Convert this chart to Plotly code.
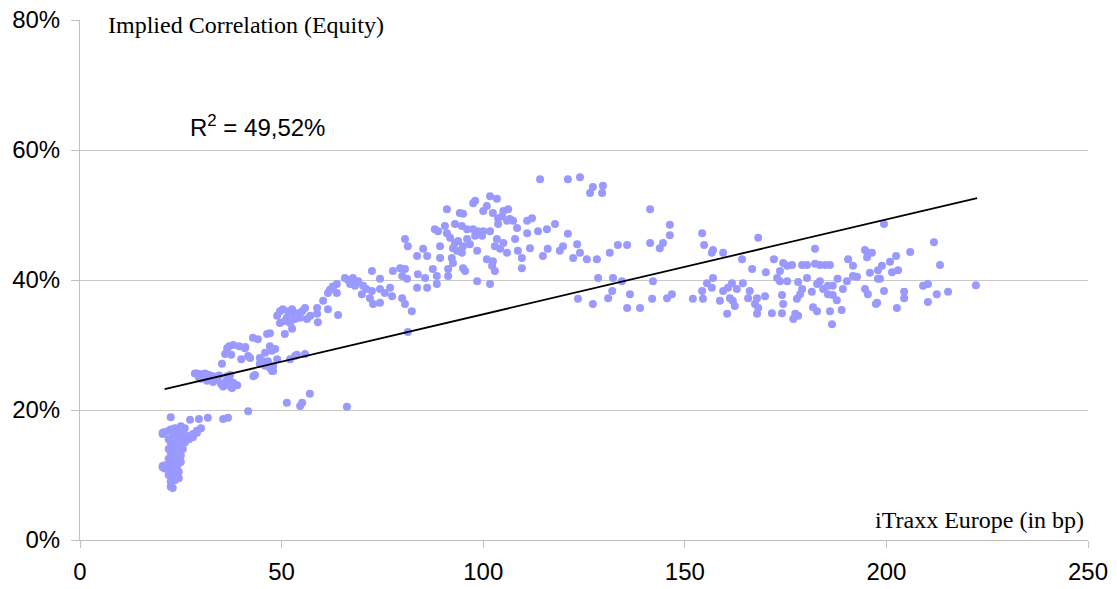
import plotly.graph_objects as go

# iTraxx Europe (bp) vs implied equity correlation (%)
pts = [
    # cluster x 20-31
    (20.5,16.5),(20.5,16.3),(20.5,11.4),(20.5,11.2),(21,16.6),(21,11.0),(21,11.5),
    (22,16.8),(22,15.5),(22,14.0),(22,12.5),(22,11.0),(22,10.0),
    (22.5,18.9),(22.5,17.0),(22.5,15.0),(22.5,13.5),(22.5,12.0),(22.5,9.0),(22.5,8.2),
    (23,16.0),(23,14.5),(23,13.0),(23,11.8),(23,10.5),(23,9.5),(23,8.0),
    (23.5,17.2),(23.5,15.5),(23.5,14.0),(23.5,12.8),(23.5,11.5),(23.5,10.2),(23.5,9.2),
    (24,16.5),(24,15.0),(24,13.5),(24,12.2),(24,11.0),(24,9.8),
    (24.5,17.0),(24.5,15.8),(24.5,14.5),(24.5,13.0),(24.5,11.8),(24.5,10.5),(24.5,9.5),
    (25,17.5),(25,16.2),(25,14.8),(25,13.0),(25,12.0),
    (25.5,16.8),(25.5,15.5),(25.5,14.0),(26,17.2),(26,16.0),(26,15.0),
    (27,15.5),(27,16.0),(28,15.8),(28,16.3),(29,16.5),(29,16.8),(30,17.2),
    (27.3,18.5),(29.5,18.6),(31.7,18.8),(35.5,18.6),(36.7,18.8),(41.7,19.8),
    # x 28-43, 23-26
    (28.5,25.6),(29,25.6),(30,25.5),(31,25.6),(32,25.4),(33,25.2),(29.5,25.0),(30,24.8),
    (31.5,24.5),(32.5,25.0),(33,24.3),(34,24.7),(34.5,25.3),(35,24.0),(35.5,23.6),(36,24.3),
    (36.5,23.9),(36.5,25.2),(37,25.0),(37.2,25.4),(37.5,23.5),(37.7,23.4),(38,24.2),(39,23.8),(43,25.2),
    # x 35-42, 27-30
    (35.2,27.1),(36,28.6),(36.5,29.5),(37,29.8),(37.5,28.5),(38,30.0),(39.5,29.8),(40,27.8),
    (41,29.7),(41.7,28.3),(40.9,29.5),(42.2,28.0),
    # x 43-56, 25-32
    (42.9,31.1),(44.1,30.9),(46.4,31.7),(47.1,31.8),(43.4,25.4),(44.6,28.0),(45.9,28.8),(47.1,29.8),
    (47.6,29.1),(48.4,29.4),(45.4,27.5),(46.6,27.5),(47.9,26.8),(47.6,26.0),(45.9,26.8),(44.6,27.1),
    (48.9,27.8),(47.9,26.0),(47.1,26.5),(52.1,27.8),(53.8,28.5),(55.8,28.6),(53.3,28.3),
    # x 49-64, 31-36
    (48.9,34.5),(49.6,35.2),(50.3,35.5),(51.6,35.2),(52.6,35.5),(52.8,34.8),(51.3,34.2),(49.6,33.4),
    (50.8,33.7),(52.1,33.4),(53.3,34.0),(54.1,34.9),(55.1,35.2),(55.8,35.7),(54.6,34.2),(56.3,34.0),
    (57.1,34.5),(58.8,35.7),(59.0,33.5),(52.6,32.5),(50.8,31.7),(58.8,34.8),(61.5,35.5),(64.0,34.6),
    # low outliers
    (51.3,21.1),(54.6,20.6),(55.1,21.1),(57.0,22.5),(66.2,20.5),
    # x 60-82
    (60.3,36.8),(61.5,38.0),(62.0,38.5),(62.7,39.0),(63.7,39.4),(62.7,38.8),(63.7,38.0),
    (65.7,40.3),(67.7,40.3),(67.0,39.4),(68.2,39.1),(70.2,39.1),(71.0,38.6),(69.9,37.8),(72.4,38.3),
    (71.9,37.2),(72.7,36.3),(74.4,36.5),(74.4,40.2),(74.4,38.6),(75.6,38.0),(76.9,38.8),(77.4,37.5),
    (72.4,41.4),(77.6,41.4),(79.4,41.8),(80.6,41.7),(79.9,40.6),(81.1,40.2),(80.6,46.3),(81.3,45.2),
    (79.9,37.2),(80.6,36.3),(82.3,35.2),(81.3,32.0),(66.5,40.0),(69.0,39.8),
    # x 83-102
    (83.6,43.7),(85.1,44.8),(86.1,43.7),(83.8,40.9),(83.6,38.8),(86.1,38.8),(85.6,40.3),(87.5,41.7),
    (88.5,39.4),(88.5,40.6),(89.3,43.4),(89.3,45.2),(91.0,50.9),(88.8,47.5),(88.0,47.8),(91.3,41.7),
    (92.5,42.6),(92.2,43.4),(91.3,40.6),(90.5,48.3),(93.0,48.6),(94.7,48.3),(95.0,50.2),(94.2,50.3),
    (96.0,47.8),(91.0,47.2),(91.8,46.5),(93.0,45.7),(93.8,46.0),(92.5,44.9),(93.5,44.5),(95.0,45.2),
    (94.7,44.2),(96.0,46.3),(96.7,45.5),(98.5,44.5),(97.5,47.8),(98.7,47.5),(100.0,47.5),(99.7,46.8),
    (98.0,46.8),(95.0,41.8),(95.5,41.4),(98.5,39.8),(101.7,39.4),
    # x 97-118
    (97.5,51.8),(98.0,52.2),(100.9,51.4),(101.7,52.9),(103.4,52.5),(100.0,50.6),(102.4,50.3),(103.7,49.5),
    (105.0,50.6),(106.2,50.9),(104.7,49.8),(106.6,49.4),(107.4,49.1),(105.9,49.1),(103.7,48.6),(101.7,47.5),
    (103.4,46.3),(105.0,45.7),(102.9,45.2),(104.2,44.8),(105.9,44.2),(100.9,43.2),(102.4,42.9),(102.2,42.2),
    (102.9,41.4),(107.9,46.3),(108.6,44.5),(109.6,43.4),(109.6,41.8),(108.4,48.0),(110.9,47.2),(110.9,49.1),
    (112.1,49.5),(113.6,47.5),(111.6,44.9),(114.1,55.5),(114.8,43.7),(116.0,44.8),(115.8,47.8),(117.8,48.6),
    # x 119-147
    (121.0,55.5),(124.0,55.8),(127.2,54.3),(129.7,54.5),(126.5,53.4),(129.5,53.4),(119.0,44.5),(119.8,45.2),
    (121.0,47.1),(123.3,45.5),(122.3,43.4),(124.0,44.2),(125.7,43.2),(128.2,43.2),(131.4,44.2),(133.4,45.4),
    (135.7,45.4),(128.5,40.3),(132.2,40.3),(134.4,39.8),(123.5,37.1),(127.2,36.3),(131.0,37.2),(132.0,38.3),
    (136.4,37.8),(135.7,35.7),(138.9,35.7),(142.1,39.8),(141.9,37.1),(145.6,37.2),(146.8,37.8),(141.4,50.9),
    (146.3,48.5),(146.3,46.9),(144.6,45.7),(143.8,44.9),(141.4,45.7),
    # x 152-170
    (154.3,47.2),(154.8,45.4),(157.0,44.6),(156.7,44.2),(159.5,44.2),(168.2,46.5),(155.5,39.5),(157.0,40.3),
    (154.3,38.3),(156.7,38.8),(152.0,37.1),(154.5,37.1),(158.7,36.8),(159.5,38.3),(160.7,38.8),(161.7,39.5),
    (162.9,38.6),(161.2,37.2),(161.9,36.8),(162.4,36.0),(160.5,34.8),(164.4,39.5),(166.1,38.3),(165.7,37.2),
    (167.9,37.2),(167.4,36.3),(168.2,35.7),(167.9,34.8),(169.9,37.5),(164.2,43.2),(166.7,41.7),
    # x 170-198
    (170.1,41.2),(172.1,43.2),(174.4,42.6),(175.4,42.2),(173.6,41.4),(176.6,42.3),(179.1,42.3),(180.3,42.3),
    (182.3,44.8),(182.3,42.5),(183.5,42.3),(184.8,42.3),(186.0,42.3),(190.5,43.2),(191.7,42.2),(194.7,44.6),
    (195.4,44.2),(196.4,44.2),(195.2,43.5),(197.9,41.5),(195.9,41.1),
    (171.6,34.9),(174.1,37.7),(174.4,36.3),(174.1,34.9),(172.9,40.3),(173.6,39.8),(175.4,39.8),(177.8,37.1),
    (177.4,34.8),(178.1,34.5),(176.9,34.0),(178.1,39.7),(179.1,38.6),(178.6,37.8),(180.3,40.3),(181.5,38.2),
    (181.8,35.8),(182.8,35.2),(182.8,39.4),(183.5,39.8),(184.3,38.6),(185.5,39.1),(185.5,37.8),(186.0,35.2),
    (186.5,33.2),(186.7,37.7),(187.7,36.9),(188.9,35.4),(189.2,38.6),(190.2,39.8),(186.7,39.1),(187.9,40.2),
    (191.7,40.6),(192.7,40.5),(194.7,38.6),(195.4,37.8),(197.9,40.2),(197.7,36.5),
    # x 198-222
    (199.4,48.6),(198.9,42.2),(200.9,42.8),(202.4,43.7),(205.9,44.3),(211.8,45.8),(213.3,42.3),(198.4,40.2),
    (201.4,41.2),(202.9,41.5),(199.4,38.3),(197.4,36.3),(202.6,35.7),(204.4,38.2),(204.4,37.2),(209.1,39.1),
    (210.3,39.4),(210.3,36.6),(212.5,37.8),(215.3,38.2),(222.2,39.2),
]
itraxx_bp = [p[0] for p in pts]
implied_corr_pct = [p[1] for p in pts]

trend_x = [21.0, 222.5]
trend_y = [23.2, 52.6]

x_ticks = [0, 50, 100, 150, 200, 250]
y_ticks = [0, 20, 40, 60, 80]
y_tick_labels = ["0%", "20%", "40%", "60%", "80%"]

fig = go.Figure()
fig.add_trace(go.Scatter(
    x=itraxx_bp, y=implied_corr_pct, mode="markers",
    marker=dict(size=8, color="#9999ff", line=dict(width=0)),
    showlegend=False, hoverinfo="skip"))
fig.add_trace(go.Scatter(
    x=trend_x, y=trend_y, mode="lines",
    line=dict(color="black", width=1.8),
    showlegend=False, hoverinfo="skip"))

sans = "Liberation Sans, Arial, sans-serif"
serif = "Liberation Serif, Times New Roman, serif"

fig.update_layout(
    width=1117, height=589,
    margin=dict(l=80, r=29, t=20, b=49, autoexpand=False),
    paper_bgcolor="white", plot_bgcolor="white",
    xaxis=dict(range=[0, 250], tickvals=x_ticks, showgrid=False, zeroline=False,
               showline=True, linecolor="#c0c0c0", linewidth=1, automargin=False,
               ticks="outside", ticklen=7, tickcolor="#c0c0c0",
               tickfont=dict(family=sans, size=24, color="black"),
               ticklabelstandoff=3, ticklabeloverflow="allow"),
    yaxis=dict(range=[0, 80], tickvals=y_ticks, ticktext=y_tick_labels,
               showgrid=True, gridcolor="#c8c8c8", gridwidth=1, zeroline=False,
               showline=True, linecolor="#c0c0c0", linewidth=1, automargin=False,
               ticks="outside", ticklen=8, tickcolor="#c0c0c0",
               tickfont=dict(family=sans, size=24, color="black"),
               ticklabelstandoff=6, ticklabeloverflow="allow"),
    annotations=[
        dict(text="Implied Correlation (Equity)", xref="paper", yref="paper",
             x=0.0258, y=0.99, xanchor="left", yanchor="middle", showarrow=False,
             font=dict(family=serif, size=24, color="black")),
        dict(text="R<sup>2</sup> = 49,52%", xref="paper", yref="paper",
             x=0.107, y=0.796, xanchor="left", yanchor="middle", showarrow=False,
             font=dict(family=sans, size=24, color="black")),
        dict(text="iTraxx Europe (in bp)", xref="paper", yref="paper",
             x=0.998, y=0.038, xanchor="right", yanchor="middle", showarrow=False,
             font=dict(family=serif, size=24, color="black")),
    ],
)
# remove the default 8px page margin so the figure fills the window exactly
fig.write_html("out.html", config={"displayModeBar": False},
               post_script="document.body.style.margin='0';")
